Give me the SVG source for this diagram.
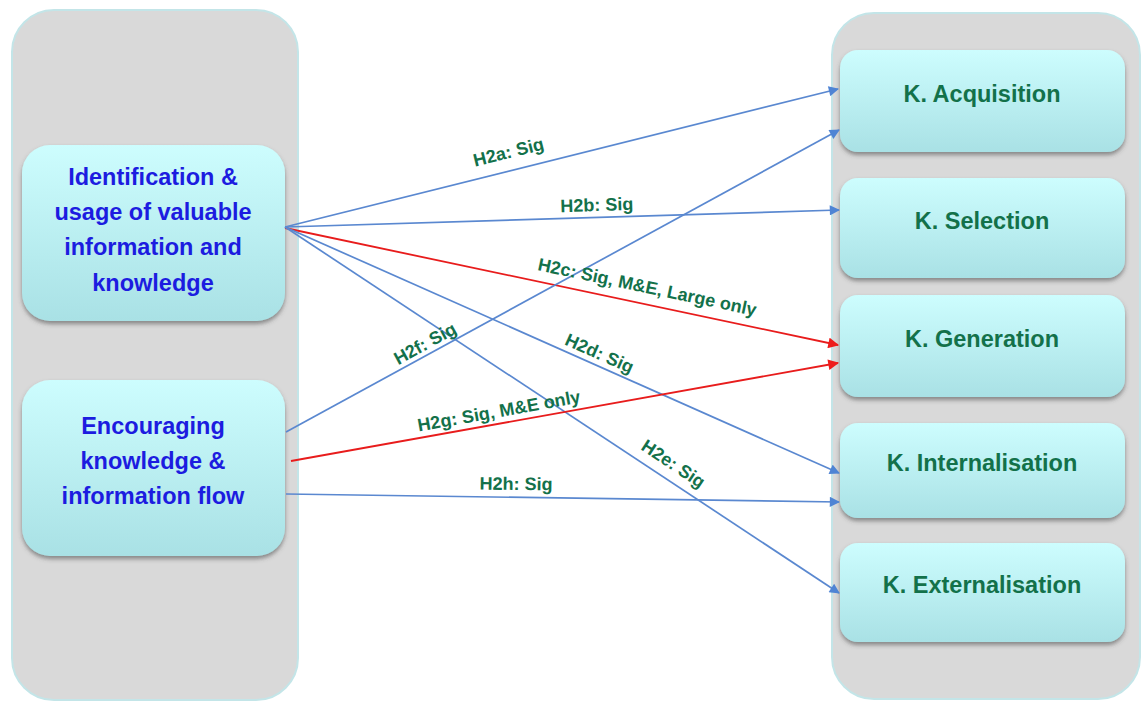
<svg xmlns="http://www.w3.org/2000/svg" width="1143" height="706" viewBox="0 0 1143 706">
  <defs>
    <linearGradient id="nodeFill" x1="0" y1="0" x2="0" y2="1">
      <stop offset="0" stop-color="#cdfdfe"/>
      <stop offset="1" stop-color="#a9e1e5"/>
    </linearGradient>
    <filter id="shadow" x="-10%" y="-10%" width="120%" height="130%">
      <feDropShadow dx="0" dy="3" stdDeviation="2" flood-color="#444" flood-opacity="0.55"/>
    </filter>
    <marker id="arrowBlue" viewBox="0 0 10 10" refX="9" refY="5" markerWidth="7" markerHeight="6" orient="auto" markerUnits="strokeWidth">
      <path d="M0,0 L10,5 L0,10 z" fill="#4f84d4"/>
    </marker>
    <marker id="arrowRed" viewBox="0 0 10 10" refX="9" refY="5" markerWidth="7" markerHeight="6" orient="auto" markerUnits="strokeWidth">
      <path d="M0,0 L10,5 L0,10 z" fill="#ee1c1c"/>
    </marker>
  </defs>
  <style>
    .container { fill: #d9d9d9; stroke: #c3e5e8; stroke-width: 2; }
    .node { fill: url(#nodeFill); filter: url(#shadow); }
    .srcText { font-family: "Liberation Sans", Arial, sans-serif; font-weight: bold; font-size: 23.5px; fill: #1c1ce0; text-anchor: middle; }
    .dstText { font-family: "Liberation Sans", Arial, sans-serif; font-weight: bold; font-size: 23.5px; fill: #13714a; text-anchor: middle; }
    .edgeLabel { font-family: "Liberation Sans", Arial, sans-serif; font-weight: bold; font-size: 18px; fill: #13714a; text-anchor: middle; }
    .blue { stroke: #5a88d0; stroke-width: 1.7; fill: none; marker-end: url(#arrowBlue); }
    .red { stroke: #e81c1c; stroke-width: 1.8; fill: none; marker-end: url(#arrowRed); }
  </style>

  <rect width="1143" height="706" fill="#ffffff"/>

  <!-- grouping panels -->
  <g id="panel-left">
    <rect class="container" x="12" y="10" width="286" height="690" rx="42"/>
  </g>
  <g id="panel-right">
    <rect class="container" x="832" y="13" width="308" height="686" rx="42"/>
  </g>

  <!-- source constructs -->
  <g id="node-identification">
    <rect class="node" x="22" y="145" width="263" height="176" rx="28"/>
    <text class="srcText" x="153" y="185">Identification &amp;</text>
    <text class="srcText" x="153" y="220">usage of valuable</text>
    <text class="srcText" x="153" y="255">information and</text>
    <text class="srcText" x="153" y="291">knowledge</text>
  </g>
  <g id="node-encouraging">
    <rect class="node" x="22" y="380" width="263" height="176" rx="28"/>
    <text class="srcText" x="153" y="434">Encouraging</text>
    <text class="srcText" x="153" y="469">knowledge &amp;</text>
    <text class="srcText" x="153" y="504">information flow</text>
  </g>

  <!-- knowledge processes -->
  <g id="node-acquisition">
    <rect class="node" x="840" y="50" width="285" height="102" rx="18"/>
    <text class="dstText" x="982" y="102">K. Acquisition</text>
  </g>
  <g id="node-selection">
    <rect class="node" x="840" y="178" width="285" height="100" rx="18"/>
    <text class="dstText" x="982" y="229">K. Selection</text>
  </g>
  <g id="node-generation">
    <rect class="node" x="840" y="295" width="285" height="102" rx="18"/>
    <text class="dstText" x="982" y="347">K. Generation</text>
  </g>
  <g id="node-internalisation">
    <rect class="node" x="840" y="423" width="285" height="95" rx="18"/>
    <text class="dstText" x="982" y="471">K. Internalisation</text>
  </g>
  <g id="node-externalisation">
    <rect class="node" x="840" y="543" width="285" height="99" rx="18"/>
    <text class="dstText" x="982" y="593">K. Externalisation</text>
  </g>

  <!-- hypothesis links -->
  <g id="connectors">
    <line class="blue" x1="285" y1="227" x2="838" y2="89"/>
    <line class="blue" x1="285" y1="227" x2="839" y2="210"/>
    <line class="red" x1="285" y1="228" x2="838" y2="345"/>
    <line class="blue" x1="285" y1="227" x2="839" y2="473"/>
    <line class="blue" x1="285" y1="227" x2="839" y2="593"/>
    <line class="blue" x1="286" y1="432" x2="839" y2="130"/>
    <line class="red" x1="291" y1="461" x2="838" y2="363"/>
    <line class="blue" x1="286" y1="494" x2="839" y2="502"/>

    <text class="edgeLabel" transform="translate(510,158) rotate(-13.9)">H2a: Sig</text>
    <text class="edgeLabel" transform="translate(597,211) rotate(-1.8)">H2b: Sig</text>
    <text class="edgeLabel" transform="translate(646,293) rotate(11.9)">H2c: Sig, M&amp;E, Large only</text>
    <text class="edgeLabel" transform="translate(597,359) rotate(24)">H2d: Sig</text>
    <text class="edgeLabel" transform="translate(670,469) rotate(33.5)">H2e: Sig</text>
    <text class="edgeLabel" transform="translate(428,349) rotate(-28.7)">H2f: Sig</text>
    <text class="edgeLabel" transform="translate(500,417) rotate(-10.2)">H2g: Sig, M&amp;E only</text>
    <text class="edgeLabel" transform="translate(516,490) rotate(0.8)">H2h: Sig</text>
  </g>
</svg>
